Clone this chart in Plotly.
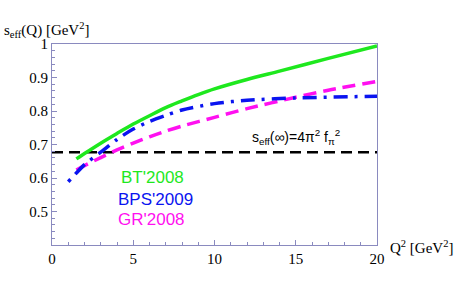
import plotly.graph_objects as go

# Data
q2_bt = [1.5, 2, 3, 4, 5, 6, 7, 8, 9, 10, 12, 14, 17, 20]
s_bt = [0.657, 0.673, 0.704, 0.733, 0.761, 0.786, 0.810, 0.830, 0.849, 0.866, 0.894, 0.919, 0.957, 0.994]

q2_bps = [1.0, 1.5, 2, 3, 4, 5, 6, 7, 8, 10, 12, 15, 20]
s_bps = [0.589, 0.615, 0.640, 0.677, 0.715, 0.746, 0.769, 0.787, 0.803, 0.822, 0.832, 0.839, 0.844]

q2_gr = [1.5, 2, 3, 4, 5, 6, 7, 8, 10, 12, 15, 17, 20]
s_gr = [0.624, 0.637, 0.661, 0.684, 0.704, 0.723, 0.740, 0.755, 0.781, 0.807, 0.841, 0.862, 0.888]

q2_inf = [0, 20]
s_inf = [0.677, 0.677]

x_ticks = [0, 5, 10, 15, 20]
y_ticks = [0.5, 0.6, 0.7, 0.8, 0.9, 1.0]
y_tick_text = ["0.5", "0.6", "0.7", "0.8", "0.9", "1"]

GREEN = "#1ee81e"
BLUE = "#0a14f0"
MAGENTA = "#ff10f0"
FRAME = "#8a8abf"

fig = go.Figure()
fig.add_trace(go.Scatter(x=q2_inf, y=s_inf, mode="lines",
                         line=dict(color="black", width=2.5, dash="11px,6px")))
fig.add_trace(go.Scatter(x=q2_gr, y=s_gr, mode="lines", line_shape="spline",
                         line=dict(color=MAGENTA, width=3.5, dash="13px,7px", smoothing=0.8)))
fig.add_trace(go.Scatter(x=q2_bps, y=s_bps, mode="lines", line_shape="spline",
                         line=dict(color=BLUE, width=3.5, dash="3px,7px,14px,7px", smoothing=0.8)))
fig.add_trace(go.Scatter(x=q2_bt, y=s_bt, mode="lines", line_shape="spline",
                         line=dict(color=GREEN, width=3.5, smoothing=0.8)))

serif = "Liberation Serif, Times New Roman, serif"
sans = "Liberation Sans, Arial, sans-serif"

fig.update_layout(
    width=464, height=286,
    margin=dict(l=52, r=87, t=44, b=41, autoexpand=False),
    plot_bgcolor="white", paper_bgcolor="white",
    showlegend=False,
    font=dict(family=serif, size=14, color="black"),
)
fig.update_xaxes(
    range=[0, 20], tickvals=x_ticks, ticks="inside", ticklen=5, tickcolor=FRAME,
    automargin=False,
    showgrid=False, zeroline=False, showline=True, mirror=True, linecolor=FRAME, linewidth=1,
    minor=dict(ticks="inside", ticklen=3, dtick=1, tickcolor=FRAME, showgrid=False),
    tickfont=dict(family=serif, size=15),
)
fig.update_yaxes(
    range=[0.4, 1.0], tickvals=y_ticks, ticktext=y_tick_text, ticks="inside", ticklen=5, tickcolor=FRAME,
    automargin=False,
    showgrid=False, zeroline=False, showline=True, mirror=True, linecolor=FRAME, linewidth=1,
    minor=dict(ticks="inside", ticklen=3, dtick=0.02, tickcolor=FRAME, showgrid=False),
    tickfont=dict(family=serif, size=15),
)

fig.add_annotation(x=0.0, y=1.07, xref="paper", yref="paper", xshift=-50,
                   xanchor="left", yanchor="middle", showarrow=False,
                   text="s<sub>eff</sub>(Q) [GeV<sup>2</sup>]",
                   font=dict(family=serif, size=15))
fig.add_annotation(x=1.034, y=-0.01, xref="paper", yref="paper",
                   xanchor="left", yanchor="middle", showarrow=False,
                   text="Q<sup>2</sup> [GeV<sup>2</sup>]",
                   font=dict(family=serif, size=15))
fig.add_annotation(x=15.0, y=0.722, xref="x", yref="y",
                   xanchor="center", yanchor="middle", showarrow=False,
                   text="s<sub>eff</sub>(∞)=4π<sup>2</sup> f<sub>π</sub><sup>2</sup>",
                   font=dict(family=sans, size=14))
fig.add_annotation(x=6.2, y=0.601, xref="x", yref="y", showarrow=False,
                   text="BT'2008", font=dict(family=sans, size=17, color=GREEN))
fig.add_annotation(x=6.34, y=0.537, xref="x", yref="y", showarrow=False,
                   text="BPS'2009", font=dict(family=sans, size=17, color=BLUE))
fig.add_annotation(x=6.1, y=0.475, xref="x", yref="y", showarrow=False,
                   text="GR'2008", font=dict(family=sans, size=17, color=MAGENTA))

fig.write_html("out.html", config={"displayModeBar": False},
               post_script="document.body.style.margin='0px';")
